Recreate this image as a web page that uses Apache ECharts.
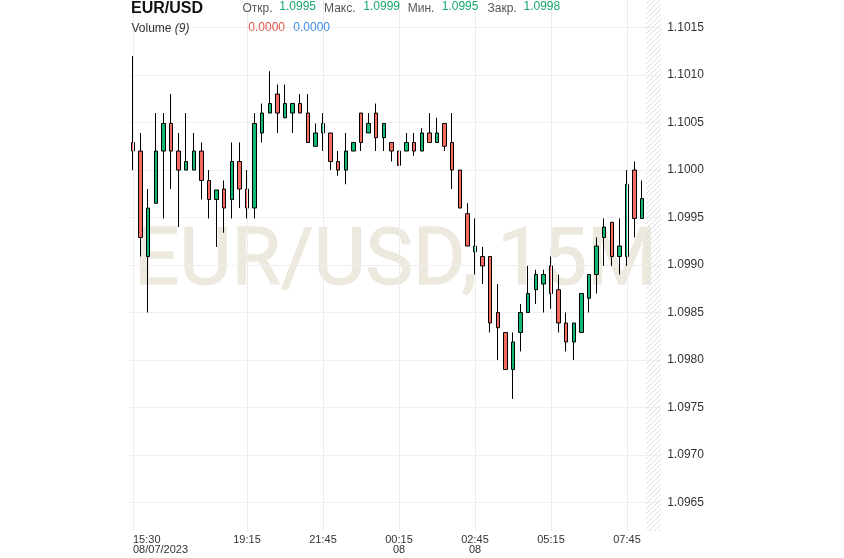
<!DOCTYPE html>
<html>
<head>
<meta charset="utf-8">
<script src="https://cdn.jsdelivr.net/npm/echarts@6/dist/echarts.min.js"></script>
<style>html,body{margin:0;padding:0;background:#fff;}#c{width:844px;height:558px;}</style>
</head>
<body>
<div id="c"></div>
<script>
// ---- data (15-minute candles, EUR/USD) ----
const categories = ['15:30','15:45','16:00','16:15','16:30','16:45','17:00','17:15','17:30','17:45',
'18:00','18:15','18:30','18:45','19:00','19:15','19:30','19:45','20:00','20:15',
'20:30','20:45','21:00','21:15','21:30','21:45','22:00','22:15','22:30','22:45',
'23:00','23:15','23:30','23:45','00:00','00:15','00:30','00:45','01:00','01:15',
'01:30','01:45','02:00','02:15','02:30','02:45','03:00','03:15','03:30','03:45',
'04:00','04:15','04:30','04:45','05:00','05:15','05:30','05:45','06:00','06:15',
'06:30','06:45','07:00','07:15','07:30','07:45','08:00','08:15','08:30','08:45'];
const opens  = [1.10029,1.10020,1.09909,1.09965,1.10020,1.10049,1.10020,1.10000,1.10000,1.10020,
1.09989,1.09969,1.09980,1.09969,1.10009,1.09980,1.09960,1.10039,1.10060,1.10080,
1.10055,1.10060,1.10070,1.10060,1.10025,1.10039,1.10039,1.10009,1.10000,1.10020,
1.10060,1.10039,1.10060,1.10034,1.10029,1.10020,1.10020,1.10029,1.10020,1.10039,
1.10029,1.10049,1.10029,1.10000,1.09954,1.09914,1.09909,1.09909,1.09850,1.09829,
1.09790,1.09829,1.09850,1.09874,1.09880,1.09899,1.09874,1.09839,1.09819,1.09829,
1.09865,1.09890,1.09929,1.09945,1.09909,1.09909,1.10000,1.09949];
const highs  = [1.10120,1.10039,1.09980,1.10060,1.10060,1.10080,1.10039,1.10060,1.10039,1.10029,
1.10000,1.09979,1.09989,1.10029,1.10029,1.10000,1.10060,1.10070,1.10104,1.10090,
1.10090,1.10070,1.10080,1.10080,1.10049,1.10060,1.10039,1.10020,1.10039,1.10029,
1.10060,1.10060,1.10070,1.10049,1.10029,1.10020,1.10039,1.10039,1.10044,1.10060,
1.10055,1.10049,1.10060,1.10000,1.09965,1.09949,1.09919,1.09909,1.09880,1.09829,
1.09829,1.09859,1.09899,1.09895,1.09895,1.09909,1.09890,1.09850,1.09839,1.09870,
1.09890,1.09929,1.09949,1.09945,1.09949,1.10000,1.10009,1.09989];
const lows   = [1.10000,1.09909,1.09850,1.09965,1.09949,1.09980,1.09940,1.10000,1.10000,1.09969,
1.09949,1.09919,1.09934,1.09949,1.09960,1.09949,1.09949,1.10029,1.10060,1.10039,
1.10055,1.10039,1.10060,1.10029,1.10025,1.10020,1.10000,1.09994,1.09985,1.10020,
1.10020,1.10039,1.10020,1.10020,1.10009,1.10005,1.10020,1.10015,1.10020,1.10029,
1.10029,1.10020,1.09980,1.09960,1.09920,1.09890,1.09880,1.09829,1.09800,1.09790,
1.09759,1.09809,1.09850,1.09859,1.09850,1.09854,1.09829,1.09809,1.09800,1.09829,
1.09850,1.09870,1.09899,1.09899,1.09890,1.09899,1.09929,1.09949];
const closes = [1.10020,1.09929,1.09960,1.10020,1.10049,1.10020,1.10000,1.10009,1.10020,1.09989,
1.09969,1.09979,1.09960,1.10009,1.09980,1.09960,1.10049,1.10060,1.10070,1.10060,
1.10070,1.10070,1.10060,1.10029,1.10039,1.10049,1.10009,1.10000,1.10020,1.10029,
1.10029,1.10049,1.10034,1.10049,1.10020,1.10005,1.10029,1.10020,1.10039,1.10029,
1.10039,1.10025,1.10000,1.09960,1.09920,1.09920,1.09899,1.09839,1.09834,1.09790,
1.09819,1.09850,1.09870,1.09890,1.09890,1.09870,1.09839,1.09819,1.09839,1.09870,
1.09890,1.09920,1.09940,1.09909,1.09920,1.09985,1.09949,1.09970];
const tickTimes  = ['15:30','19:15','21:45','00:15','02:45','05:15','07:45'];
const tickSub    = ['08/07/2023','','','08','08','',''];
const futureSlots = ['08:30','08:45'];
const yRange = [1.0962, 1.10179];
const header = { open: '1.0995', high: '1.0999', low: '1.0995', close: '1.0998', vol1: '0.0000', vol2: '0.0000', volN: '9' };

const candleData = opens.map((o, i) => [o, closes[i], lows[i], highs[i]]);
const hatchData = categories.map(c => futureSlots.includes(c) ? yRange[1] : null);
const lastPrice = closes[closes.length - 1];

function makeHatch() {
  const c = document.createElement('canvas');
  c.width = 5; c.height = 5;
  const g = c.getContext('2d');
  g.strokeStyle = '#dcdcdc';
  g.lineWidth = 1;
  g.beginPath();
  g.moveTo(0, 5); g.lineTo(5, 0);
  g.moveTo(-1, 1); g.lineTo(1, -1);
  g.moveTo(4, 6); g.lineTo(6, 4);
  g.stroke();
  return c;
}

const FONT = '"Liberation Sans", Arial, sans-serif';
const chart = echarts.init(document.getElementById('c'), null, { renderer: 'canvas' });
const txt = (x, y, text, fill, font) => ({ type: 'text', x, y, z: 20, silent: true, style: { text, fill, font } });

chart.setOption({
  animation: false,
  backgroundColor: '#ffffff',
  grid: { left: 129.2, right: 182.8, top: 0, bottom: 27, containLabel: false, outerBoundsMode: 'none' },
  xAxis: {
    type: 'category', data: categories, boundaryGap: true,
    axisLine: { show: false }, axisTick: { show: false }, splitLine: { show: false },
    axisLabel: {
      interval: (idx, val) => tickTimes.includes(val),
      formatter: (val) => { const k = tickTimes.indexOf(val); return tickSub[k] ? val + '\n' + tickSub[k] : val; },
      color: '#333', fontSize: 11, lineHeight: 10, margin: 4, fontFamily: FONT,
      alignMinLabel: 'left', hideOverlap: false
    }
  },
  yAxis: {
    type: 'value', position: 'right', scale: true, min: yRange[0], max: yRange[1], splitNumber: 11,
    axisLine: { show: false }, axisTick: { show: false },
    splitLine: { show: true, showMinLine: false, showMaxLine: false, lineStyle: { color: '#efefef', width: 1 } },
    axisLabel: { color: '#333', fontSize: 12, margin: 6, fontFamily: FONT, showMinLabel: false, showMaxLabel: false,
      formatter: v => v.toFixed(4) }
  },
  graphic: [
    { type: 'text', x: 395.5, y: 264, z: -10, silent: true,
      style: { text: 'EUR/USD, 15M', align: 'center', verticalAlign: 'middle',
        fill: '#ede9de', stroke: '#e5e0d1', lineWidth: 0.8,
        font: '80px Roboto, "Liberation Sans", sans-serif' } },
    txt(131, 1, 'EUR/USD', '#111', 'bold 16px ' + FONT),
    txt(242.5, 3, 'Откр.', '#555', '12px ' + FONT),
    txt(279.3, 0.5, header.open, '#17a86c', '12px ' + FONT),
    txt(324, 3, 'Макс.', '#555', '12px ' + FONT),
    txt(363.3, 0.5, header.high, '#17a86c', '12px ' + FONT),
    txt(407.7, 3, 'Мин.', '#555', '12px ' + FONT),
    txt(441.7, 0.5, header.low, '#17a86c', '12px ' + FONT),
    txt(487.5, 3, 'Закр.', '#555', '12px ' + FONT),
    txt(523.5, 0.5, header.close, '#17a86c', '12px ' + FONT),
    { type: 'text', x: 131.5, y: 23, z: 20, silent: true, style: { text: '{a|Volume} {b|(' + header.volN + ')}',
        rich: { a: { fill: '#333', font: '12px ' + FONT }, b: { fill: '#333', font: 'italic 12px ' + FONT } } } },
    txt(248.3, 21.5, header.vol1, '#e0574e', '12px ' + FONT),
    txt(293.3, 21.5, header.vol2, '#3f8fe6', '12px ' + FONT)
  ],
  series: [
    {
      type: 'bar', data: hatchData, barWidth: '100%', silent: true, z: 1, clip: true,
      itemStyle: { color: { image: makeHatch(), repeat: 'repeat' } },
      markLine: {
        silent: true, symbol: ['none', 'none'], animation: false,
        label: { show: false },
        lineStyle: { color: '#ececec', width: 1, type: 'solid' },
        data: tickTimes.map(t => ({ xAxis: t }))
      }
    },
    {
      type: 'candlestick', data: candleData, barWidth: 4, z: 3,
      itemStyle: { color: '#12b872', color0: '#f66a5e', borderColor: '#000', borderColor0: '#000', borderWidth: 1 },
      markLine: {
        silent: true, symbol: ['none', 'none'], animation: false,
        lineStyle: { opacity: 0 },
        data: [{ yAxis: lastPrice }],
        label: { show: true, position: 'end', distance: 2, formatter: () => lastPrice.toFixed(4),
          backgroundColor: '#1bc47d', color: '#fff', fontWeight: 'bold', fontSize: 13, fontFamily: FONT,
          padding: [2, 15, 2, 15], borderRadius: 2 }
      }
    }
  ]
});
</script>
</body>
</html>
